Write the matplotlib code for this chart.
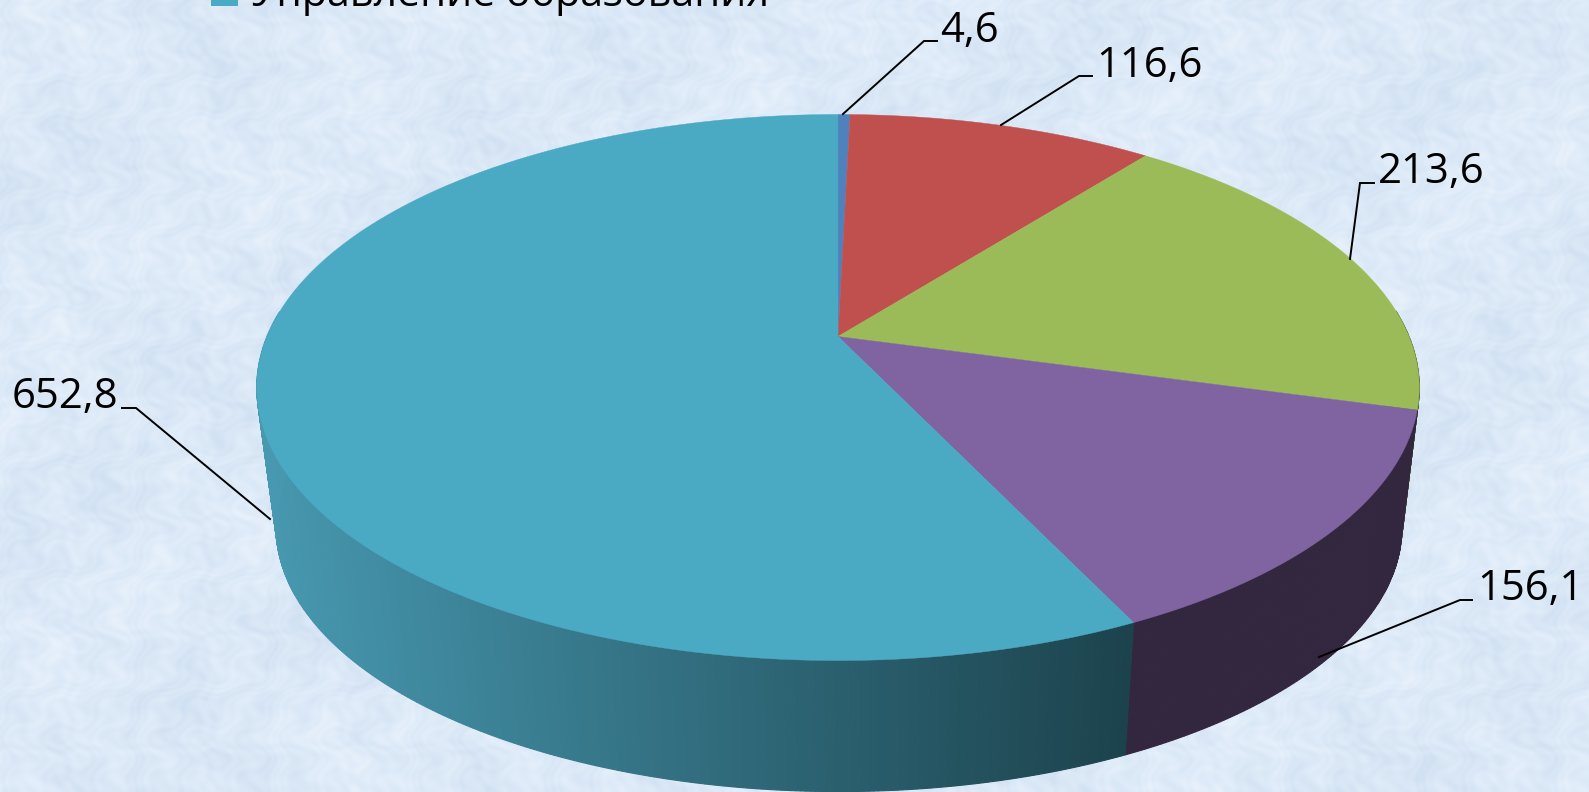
import numpy as np
import matplotlib
matplotlib.use("Agg")
import matplotlib.pyplot as plt

# Data
values = [4.6, 116.6, 213.6, 156.1, 652.8]
labels = ["4,6", "116,6", "213,6", "156,1", "652,8"]
legend_entry = "Управление образования"
top_colors = ["#4f81bd", "#c0504d", "#9bbb59", "#8064a2", "#4aa9c3"]
side_colors = ["#2a4566", "#672b29", "#536432", "#33273f", None]

W, H = 1589, 792
fig = plt.figure(figsize=(W / 100, H / 100), dpi=100)
ax = fig.add_axes([0, 0, 1, 1])
ax.set_xlim(0, W)
ax.set_ylim(H, 0)
ax.axis("off")

# Decorative mottled background
yy, xx = np.mgrid[0:H:2, 0:W:2].astype(float)
wx = xx + 22 * np.sin(yy / 19.0 + 1.3) + 11 * np.sin(yy / 6.1)
wy = yy + 22 * np.sin(xx / 23.0 + 0.4) + 11 * np.sin(xx / 7.3)
tex = (np.sin(wx / 9.3 + wy / 15.9) + np.sin(wx / 5.7 - wy / 8.1 + 2.0)
       + 0.9 * np.sin(wx / 3.1 + wy / 3.7 + 1.0) + 1.0 * np.sin(wx / 31.0 - wy / 27.0)
       + 1.1 * np.sin(wx / 67.0 + wy / 53.0 + 0.7))
tex = tex / np.abs(tex).max()
bg = np.stack([220 + 12 * tex, 233 + 9 * tex, 247 + 5 * tex], axis=-1) / 255.0
ax.imshow(np.clip(bg, 0, 1), extent=[0, W, H, 0], aspect="auto", zorder=0, interpolation="bilinear")
ax.set_xlim(0, W)
ax.set_ylim(H, 0)

# Perspective projection of the pie planes
K = 0.1868
def project(theta, x0, y0, a, b):
    u, v = np.sin(theta), np.cos(theta)
    w = 1 + K * v
    return x0 + a * u / w, y0 - b * v / w

TOP = (838, 336.5, 571, 263.5)
BOT = (839, 478, 553, 255)

edges = np.concatenate([[0], np.cumsum(values)]) / np.sum(values) * 2 * np.pi

# Side wall: only the part that faces the viewer
for i in range(len(values)):
    th = np.linspace(edges[i], edges[i + 1], max(int((edges[i + 1] - edges[i]) * 140), 3))
    th = th[np.cos(th) < 0.1]
    if len(th) < 2:
        continue
    xt, yt = project(th, *TOP)
    xb, yb = project(th, *BOT)
    for j in range(len(th) - 1):
        if side_colors[i] is not None:
            c = side_colors[i]
        else:
            t = np.clip((xb[j] - 276) / (1125 - 276), 0, 1)
            c = tuple(np.array([0x47, 0x98, 0xb0]) * (1 - t) / 255 + np.array([0x1c, 0x43, 0x4d]) * t / 255)
        ax.fill([xt[j], xt[j + 1], xb[j + 1], xb[j]], [yt[j], yt[j + 1], yb[j + 1], yb[j]],
                color=c, lw=0.8, zorder=2)

# Top surface
for i in range(len(values)):
    th = np.linspace(edges[i], edges[i + 1], 300)
    xt, yt = project(th, *TOP)
    ax.fill(np.r_[TOP[0], xt], np.r_[TOP[1], yt], color=top_colors[i], lw=0.3, zorder=3)

# Legend entry, cut by the top edge
ax.add_patch(plt.Rectangle((211, -10), 27, 16, color=top_colors[4], zorder=4, lw=0))
ax.text(251, 6, legend_entry, fontsize=29.6, family="Open Sans", color="black", va="baseline", ha="left", zorder=5)

# Data labels with leader lines
label_xy = [(940, 42), (1096, 77), (1378, 183), (1477, 600), (12, 408)]
leaders = [
    [(843, 114), (924, 41), (937, 41)],
    [(1001, 125), (1079, 76), (1092, 76)],
    [(1350, 259), (1360, 183), (1374, 183)],
    [(1319, 657), (1460, 600), (1472, 600)],
    [(270, 519), (136, 408), (122, 408)],
]
for lab, (x, y), pts in zip(labels, label_xy, leaders):
    ax.text(x, y, lab, fontsize=30.2, family="Open Sans", color="black", va="baseline", ha="left", zorder=5)
    px, py = zip(*pts)
    ax.plot(px, py, color="black", lw=1.4, zorder=5, solid_joinstyle="miter")

fig.savefig("out.png", dpi=100)
